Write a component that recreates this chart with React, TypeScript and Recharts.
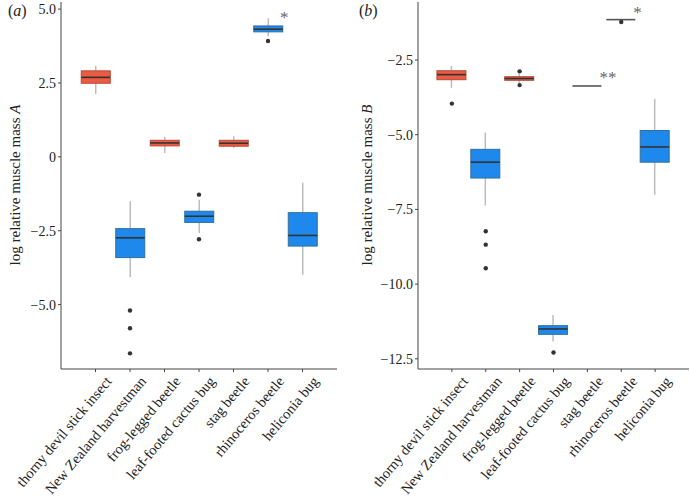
import React from "react";
import { ComposedChart, Bar, Scatter, XAxis, YAxis, Text } from "recharts";

const species = [
  "thorny devil stick insect",
  "New Zealand harvestman",
  "frog-legged beetle",
  "leaf-footed cactus bug",
  "stag beetle",
  "rhinoceros beetle",
  "heliconia bug",
];

const RED = "#EC5B41";
const BLUE = "#1F88EC";
const SERIF = "'Liberation Serif', 'Times New Roman', serif";

// panel (a): log relative muscle mass A
const lowA = [2.13, -4.07, 0.13, -2.58, 0.3, 4.08, -3.99];
const q1A = [2.49, -3.41, 0.37, -2.22, 0.36, 4.23, -3.02];
const medA = [2.69, -2.74, 0.47, -2.01, 0.46, 4.32, -2.66];
const q3A = [2.91, -2.43, 0.56, -1.84, 0.56, 4.43, -1.89];
const highA = [3.08, -1.5, 0.68, -1.45, 0.7, 4.69, -0.88];
const fillA = [RED, BLUE, RED, BLUE, RED, BLUE, BLUE];
const outCatA = [2, 2, 2, 4, 4, 6];
const outValA = [-5.2, -5.8, -6.65, -1.28, -2.79, 3.92];
const noteCatA = [6];
const noteValA = [4.81];
const noteTextA = ["*"];
const ticksA = [-5, -2.5, 0, 2.5, 5];

// panel (b): log relative muscle mass B
const lowB = [-3.43, -7.37, -3.27, -11.92, -3.37, -1.17, -7.01];
const q1B = [-3.16, -6.45, -3.18, -11.68, -3.37, -1.15, -5.92];
const medB = [-2.99, -5.92, -3.12, -11.5, -3.37, -1.15, -5.41];
const q3B = [-2.86, -5.49, -3.06, -11.39, -3.37, -1.15, -4.86];
const highB = [-2.7, -4.93, -2.95, -11.03, -3.37, -1.12, -3.8];
const fillB = [RED, BLUE, RED, BLUE, "none", "none", BLUE];
const outCatB = [1, 2, 2, 2, 3, 3, 4, 6];
const outValB = [-3.96, -8.23, -8.68, -9.47, -2.88, -3.34, -12.29, -1.23];
const noteCatB = [5, 6];
const noteValB = [-3.0, -0.83];
const noteTextB = ["**", "*"];
const ticksB = [-12.5, -10, -7.5, -5, -2.5];

const catTicks = [1, 2, 3, 4, 5, 6, 7];

function makeRows(lo: number[], q1: number[], med: number[], q3: number[], hi: number[], fills: string[]) {
  return species.map((name, i) => ({
    x: i + 1,
    name,
    range: [lo[i], hi[i]],
    lo: lo[i],
    q1: q1[i],
    med: med[i],
    q3: q3[i],
    hi: hi[i],
    fill: fills[i],
  }));
}

const rowsA = makeRows(lowA, q1A, medA, q3A, highA, fillA);
const rowsB = makeRows(lowB, q1B, medB, q3B, highB, fillB);
const outA = outCatA.map((x, i) => ({ x, y: outValA[i] }));
const outB = outCatB.map((x, i) => ({ x, y: outValB[i] }));
const notesA = noteCatA.map((x, i) => ({ x, y: noteValA[i], text: noteTextA[i] }));
const notesB = noteCatB.map((x, i) => ({ x, y: noteValB[i], text: noteTextB[i] }));

const fmt = (v: number) => (v === 0 ? "0" : (v < 0 ? "\u2212" : "") + Math.abs(v).toFixed(1));

function BoxShape(props: any) {
  const { x, y, width, height, payload } = props;
  const { lo, hi, q1, med, q3, fill } = payload;
  const span = hi - lo;
  const py = (v: number) => (span === 0 ? y : y + (height * (hi - v)) / span);
  const cx = x + width / 2;
  const stroke = fill === RED ? "#B44A3A" : "#30709F";
  return (
    <g>
      {span > 0 && (
        <line x1={cx} x2={cx} y1={py(hi)} y2={py(lo)} stroke="#BDBDBD" strokeWidth={1.5} />
      )}
      {fill !== "none" && (
        <rect x={x} y={py(q3)} width={width} height={py(q1) - py(q3)} fill={fill} stroke={stroke} strokeWidth={1} />
      )}
      <line x1={x} x2={x + width} y1={py(med)} y2={py(med)} stroke={fill === "none" ? "#555" : "#333"} strokeWidth={1.6} />
    </g>
  );
}

const OutlierDot = (props: any) => <circle cx={props.cx} cy={props.cy} r={2.2} fill="#333" />;

const NoteText = (props: any) => (
  <g>
    <text x={props.cx + 12} y={props.cy + 8} fontFamily={SERIF} fontSize={17} style={{ fill: "#666" }}>
      {props.payload.text}
    </text>
  </g>
);

const CatTick = (props: any) => {
  const { x, y, payload } = props;
  return (
    <Text
      x={x + 9}
      y={y + 1}
      angle={-50}
      textAnchor="end"
      verticalAnchor="start"
      fontFamily={SERIF}
      fontSize={14.5}
      fill="#222"
    >
      {species[payload.value - 1]}
    </Text>
  );
};

function Panel({ rows, outliers, notes, domain, ticks, yWidth, right }: any) {
  return (
    <ComposedChart width={345} height={499} data={rows} margin={{ top: 2, right, bottom: 0, left: 0 }}>
      <XAxis
        type="number"
        dataKey="x"
        domain={[0, 8]}
        ticks={catTicks}
        interval={0}
        height={130}
        tick={<CatTick />}
        tickSize={3}
        stroke="#444"
        allowDataOverflow
      />
      <YAxis
        type="number"
        domain={domain}
        ticks={ticks}
        width={yWidth}
        tickFormatter={fmt}
        tick={{ fontFamily: SERIF, fontSize: 14, fill: "#222" }}
        tickSize={3}
        tickMargin={2}
        stroke="#444"
        allowDataOverflow
      />
      <Bar dataKey="range" barSize={29} shape={BoxShape} isAnimationActive={false} />
      <Scatter data={outliers} dataKey="y" shape={OutlierDot} isAnimationActive={false} />
      <Scatter data={notes} dataKey="y" shape={NoteText} isAnimationActive={false} />
    </ComposedChart>
  );
}

const labelStyle: React.CSSProperties = {
  position: "absolute",
  top: 185,
  fontFamily: SERIF,
  fontSize: 15,
  color: "#222",
  whiteSpace: "nowrap",
  transform: "translate(-50%, -50%) rotate(-90deg)",
};

export default function App() {
  return (
    <div style={{ position: "absolute", left: 0, top: 0, width: 690, height: 499, background: "#fff" }}>
      <div style={{ position: "absolute", left: 0, top: 0 }}>
        <Panel rows={rowsA} outliers={outA} notes={notesA} domain={[-7.18, 5.24]} ticks={ticksA} yWidth={61} right={8} />
      </div>
      <div style={{ position: "absolute", left: 345, top: 0 }}>
        <Panel rows={rowsB} outliers={outB} notes={notesB} domain={[-12.84, -0.56]} ticks={ticksB} yWidth={73} right={1} />
      </div>
      <div style={{ ...labelStyle, left: 15 }}>
        log relative muscle mass <i>A</i>
      </div>
      <div style={{ ...labelStyle, left: 367 }}>
        log relative muscle mass <i>B</i>
      </div>
      <div style={{ position: "absolute", left: 8, top: 2, fontFamily: SERIF, fontSize: 16, color: "#222" }}>
        (<i>a</i>)
      </div>
      <div style={{ position: "absolute", left: 359, top: 2, fontFamily: SERIF, fontSize: 16, color: "#222" }}>
        (<i>b</i>)
      </div>
    </div>
  );
}
